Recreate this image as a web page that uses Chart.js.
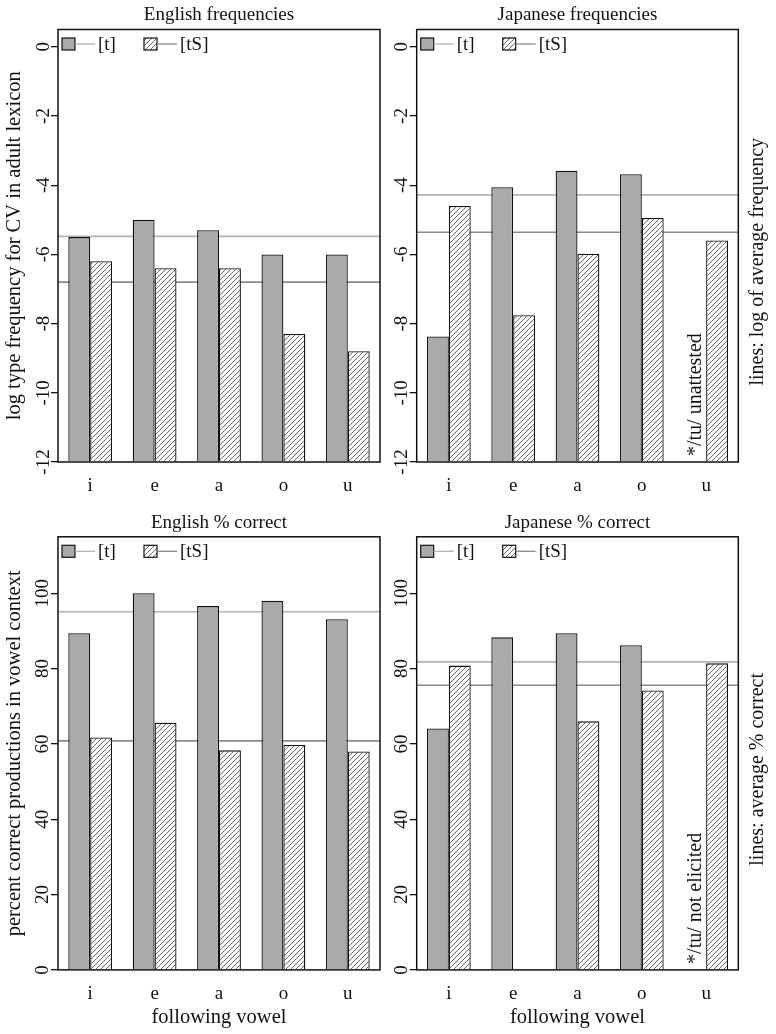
<!DOCTYPE html>
<html>
<head>
<meta charset="UTF-8">
<title>[t] / [tS] by following vowel</title>
<style>
body { margin: 0; background: #fff; }
#wrap { position: relative; width: 776px; height: 1034px; }
#wrap canvas { position: absolute; }
</style>
</head>
<body>
<div id="wrap">
	<canvas id="engFreq" width="388" height="500" style="left:0px;top:0px"></canvas>
	<canvas id="jpnFreq" width="388" height="500" style="left:388px;top:0px"></canvas>
	<canvas id="engPct" width="388" height="544" style="left:0px;top:490px"></canvas>
	<canvas id="jpnPct" width="388" height="544" style="left:388px;top:490px"></canvas>
</div>
<script src="https://cdn.jsdelivr.net/npm/chart.js@4.4.0/dist/chart.umd.min.js"></script>
<script type="text/javascript">
// categories + series
var vowels = ['i', 'e', 'a', 'o', 'u'];
var seriesNames = ['[t]', '[tS]'];

// log type frequency (bars start at -12)
var engFreqT  = [-5.5, -5.0, -5.3, -6.0, -6.0];
var engFreqTS = [-6.2, -6.4, -6.4, -8.3, -8.8];
var engFreqAvg = [-5.48, -6.8];   // [t] line, [tS] line
var jpnFreqT  = [-8.37, -4.06, -3.58, -3.68, null];
var jpnFreqTS = [-4.6, -7.76, -5.98, -4.95, -5.6];
var jpnFreqAvg = [-4.28, -5.36];

// percent correct
var engPctT  = [89.4, 100, 96.6, 98.0, 93.1];
var engPctTS = [61.7, 65.6, 58.3, 59.7, 58.0];
var engPctAvg = [95.1, 60.8];
var jpnPctT  = [64.1, 88.3, 89.4, 86.2, null];
var jpnPctTS = [80.8, null, 66.0, 74.2, 81.4];
var jpnPctAvg = [81.8, 75.6];

// tick labels
var freqTicks = [0, -2, -4, -6, -8, -10, -12];
var pctTicks = [0, 20, 40, 60, 80, 100];

var FONT = '"Liberation Serif", "Times New Roman", serif';
var INK = '#111';
var avgColors = ['#b3b3b3', '#8a8a8a'];

function hatch(ctx) {
	var c = document.createElement('canvas');
	c.width = 5; c.height = 5;
	var g = c.getContext('2d');
	g.fillStyle = '#fff';
	g.fillRect(0, 0, 5, 5);
	g.strokeStyle = '#555';
	g.lineWidth = 0.9;
	g.beginPath();
	g.moveTo(-1, 6); g.lineTo(6, -1);
	g.moveTo(-1, 1); g.lineTo(1, -1);
	g.moveTo(4, 6); g.lineTo(6, 4);
	g.stroke();
	return ctx.createPattern(c, 'repeat');
}

// avg lines (behind bars), frame, legend, side notes
var panelPlugin = {
	id: 'panel',
	beforeDatasetsDraw: function(chart) {
		var o = chart.options.plugins.panel;
		var a = chart.chartArea, y = chart.scales.y, ctx = chart.ctx;
		ctx.save();
		ctx.lineWidth = 1.6;
		o.avg.forEach(function(v, i) {
			var py = y.getPixelForValue(v);
			ctx.strokeStyle = avgColors[i];
			ctx.beginPath();
			ctx.moveTo(a.left, py);
			ctx.lineTo(a.right, py);
			ctx.stroke();
		});
		ctx.restore();
	},
	afterDatasetsDraw: function(chart) {
		var o = chart.options.plugins.panel;
		var a = chart.chartArea, ctx = chart.ctx;
		ctx.save();
		// frame
		ctx.strokeStyle = INK;
		ctx.lineWidth = 1.5;
		ctx.strokeRect(a.left, a.top, a.right - a.left, a.bottom - a.top);

		// legend
		var yc = a.top + 14.5;
		ctx.font = '19px ' + FONT;
		ctx.textBaseline = 'middle';
		ctx.textAlign = 'left';
		chart.data.datasets.forEach(function(ds, i) {
			var x0 = a.left + 4 + i * 82;
			ctx.fillStyle = ds.backgroundColor;
			ctx.fillRect(x0, yc - 6, 13, 12);
			ctx.lineWidth = 1.2;
			ctx.strokeStyle = INK;
			ctx.strokeRect(x0, yc - 6, 13, 12);
			ctx.strokeStyle = avgColors[i];
			ctx.lineWidth = 1.3;
			ctx.beginPath();
			ctx.moveTo(x0 + 13, yc);
			ctx.lineTo(x0 + 33, yc);
			ctx.stroke();
			ctx.fillStyle = INK;
			ctx.fillText(ds.label, x0 + 36, yc + 1);
		});

		ctx.font = '20px ' + FONT;
		// missing-bar note in the [t] slot of the last vowel
		if (o.note) {
			var bar = chart.getDatasetMeta(1).data[vowels.length - 1];
			ctx.save();
			ctx.translate(bar.x - bar.width + 1, a.bottom - 6);
			ctx.rotate(-Math.PI / 2);
			ctx.textAlign = 'left';
			ctx.fillText(o.note, 0, 0);
			ctx.restore();
		}
		// right margin text
		if (o.side) {
			ctx.save();
			ctx.translate(a.right + 19.5, (a.top + a.bottom) / 2 + 16);
			ctx.rotate(-Math.PI / 2);
			ctx.textAlign = 'center';
			ctx.fillText(o.side, 0, 0);
			ctx.restore();
		}
		ctx.restore();
	}
};

function makePanel(id, cfg) {
	var ctx = document.getElementById(id).getContext('2d');
	return new Chart(ctx, {
		type: 'bar',
		data: {
			labels: vowels,
			datasets: [{
				label: seriesNames[0],
				data: cfg.t,
				base: cfg.min,
				backgroundColor: '#aaaaaa',
				borderColor: INK,
				borderWidth: 1.3,
				categoryPercentage: 0.68,
				barPercentage: 1
			}, {
				label: seriesNames[1],
				data: cfg.ts,
				base: cfg.min,
				backgroundColor: hatch(ctx),
				borderColor: INK,
				borderWidth: 1.3,
				categoryPercentage: 0.68,
				barPercentage: 1
			}]
		},
		options: {
			responsive: false,
			animation: false,
			events: [],
			layout: { padding: { left: 0, right: cfg.padRight, top: 0, bottom: 0 } },
			plugins: {
				legend: { display: false },
				tooltip: { enabled: false },
				title: {
					display: true,
					fullSize: false,
					text: cfg.title,
					color: INK,
					font: { family: FONT, size: 19, weight: 'normal' },
					padding: cfg.titlePad
				},
				panel: { avg: cfg.avg, note: cfg.note, side: cfg.side }
			},
			scales: {
				x: {
					grid: { display: false },
					border: { display: false },
					ticks: { color: INK, font: { family: FONT, size: 19 }, padding: 4.5 },
					title: {
						display: !!cfg.xTitle,
						text: cfg.xTitle || '',
						color: INK,
						font: { family: FONT, size: 20.5 },
						padding: { top: 0, bottom: 4.5 }
					},
					afterFit: function(s) { s.height = cfg.xH; }
				},
				y: {
					min: cfg.min,
					max: cfg.max,
					afterBuildTicks: function(s) {
						s.ticks = cfg.ticks.map(function(v) { return { value: v }; });
					},
					grid: { drawOnChartArea: false, tickLength: 7, color: INK, lineWidth: 1.3 },
					border: { display: false },
					ticks: {
						color: INK,
						font: { family: FONT, size: 19 },
						minRotation: 90,
						maxRotation: 90,
						crossAlign: 'center',
						padding: cfg.tickPad,
						callback: function(v) { return String(v); }
					},
					title: {
						display: !!cfg.yTitle,
						text: cfg.yTitle || '',
						color: INK,
						font: { family: FONT, size: 20.5 },
						padding: { top: 2.7, bottom: 0 }
					},
					afterFit: function(s) { s.width = cfg.yW; }
				}
			}
		},
		plugins: [panelPlugin]
	});
}

makePanel('engFreq', {
	title: 'English frequencies', t: engFreqT, ts: engFreqTS, avg: engFreqAvg,
	min: -12, max: 0.5, ticks: freqTicks, tickPad: -5.2,
	yTitle: 'log type frequency for CV in adult lexicon',
	yW: 58, padRight: 8, xH: 38, titlePad: { top: 3.6, bottom: 3.1 }
});
makePanel('jpnFreq', {
	title: 'Japanese frequencies', t: jpnFreqT, ts: jpnFreqTS, avg: jpnFreqAvg,
	min: -12, max: 0.5, ticks: freqTicks, tickPad: -5.2,
	note: '*/tu/ unattested', side: 'lines: log of average frequency',
	yW: 28.7, padRight: 37.7, xH: 38, titlePad: { top: 3.6, bottom: 3.1 }
});
makePanel('engPct', {
	title: 'English % correct', t: engPctT, ts: engPctTS, avg: engPctAvg,
	min: 0, max: 115, ticks: pctTicks, tickPad: -6.7,
	yTitle: 'percent correct productions in vowel context', xTitle: 'following vowel',
	yW: 58, padRight: 8, xH: 64.1, titlePad: { top: 21.6, bottom: 2.4 }
});
makePanel('jpnPct', {
	title: 'Japanese % correct', t: jpnPctT, ts: jpnPctTS, avg: jpnPctAvg,
	min: 0, max: 115, ticks: pctTicks, tickPad: -6.7,
	note: '*/tu/ not elicited', side: 'lines: average % correct', xTitle: 'following vowel',
	yW: 28.7, padRight: 37.7, xH: 64.1, titlePad: { top: 21.6, bottom: 2.4 }
});
</script>
</body>
</html>
